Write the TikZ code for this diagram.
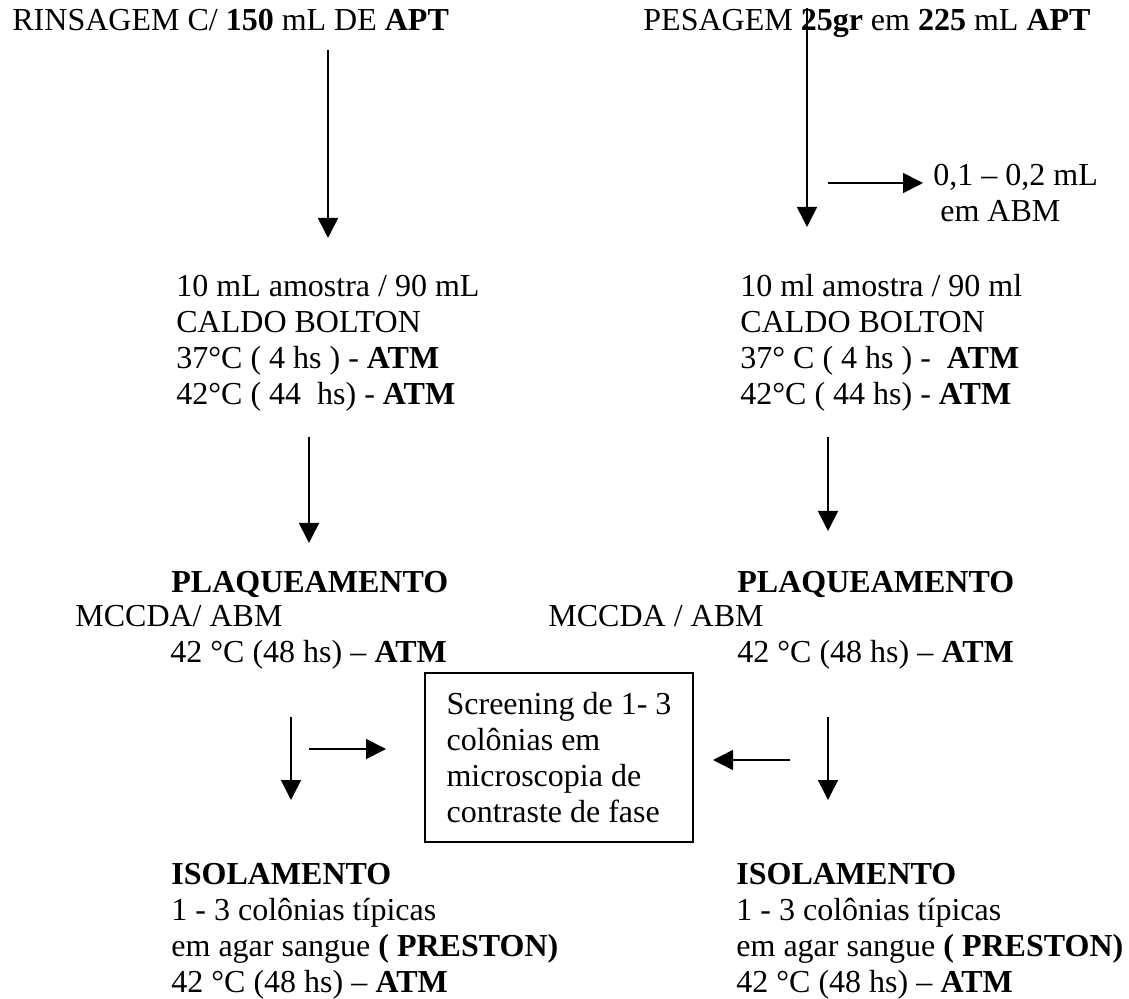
\documentclass[tikz,border=0pt]{standalone}
\usepackage{fontspec}
\setmainfont{Liberation Serif}
\usetikzlibrary{arrows.meta}

\begin{document}
\begin{tikzpicture}[x=0.5pt,y=-0.5pt]
\tikzstyle{every node}+=[inner sep=0pt, anchor=base west, align=left, font=\fontsize{16}{18}\selectfont]
\tikzstyle{seta}=[line width=0.8pt, -{Triangle[length=10pt,width=10pt]}]
\tikzstyle{caixa}=[draw, line width=0.8pt, anchor=center, minimum width=134pt, minimum height=84.5pt]
\useasboundingbox (0,0) rectangle (1129,999);
% amostras (multi-line nodes sit on their last baseline)
\node (rins) at (12,31) {RINSAGEM C/ \textbf{150} mL DE \textbf{APT}};
\node (pes) at (643,31) {PESAGEM \textbf{25gr} em \textbf{225} mL \textbf{APT}};
\node (abm) at (933,222) {0,1 -- 0,2 mL\\\hspace*{3.5pt}em ABM};
% caldo Bolton
\node (caldoL) at (176,405) {10 mL amostra / 90 mL\\CALDO BOLTON\\37°C ( 4 hs ) - \textbf{ATM}\\42°C ( 44\ \ hs) - \textbf{ATM}};
\node (caldoR) at (740,405) {10 ml amostra / 90 ml\\CALDO BOLTON\\37° C ( 4 hs ) -\ \ \textbf{ATM}\\42°C ( 44 hs) - \textbf{ATM}};
% plaqueamento
\node (plaqL) at (171,592) {\textbf{PLAQUEAMENTO}};
\node (mccL) at (75,626) {MCCDA/ ABM};
\node (tempL) at (170,662) {42 °C (48 hs) -- \textbf{ATM}};
\node (plaqR) at (737,592) {\textbf{PLAQUEAMENTO}};
\node (mccR) at (548,626) {MCCDA / ABM};
\node (tempR) at (737,662) {42 °C (48 hs) -- \textbf{ATM}};
\node[caixa] (scr) at (559,757.5) {Screening de 1- 3\\colônias em\\microscopia de\\contraste de fase};
% isolamento
\node (isoL) at (171,992) {\textbf{ISOLAMENTO}\\1 - 3 colônias típicas\\em agar sangue \textbf{( PRESTON)}\\42 °C (48 hs) -- \textbf{ATM}};
\node (isoR) at (736,992) {\textbf{ISOLAMENTO}\\1 - 3 colônias típicas\\em agar sangue \textbf{( PRESTON)}\\42 °C (48 hs) -- \textbf{ATM}};
% setas
\coordinate (a1) at (328,50);  \coordinate (a1t) at (328,238);
\coordinate (b1) at (807,8);   \coordinate (b1t) at (807,227);
\coordinate (c1) at (828,183); \coordinate (c1t) at (923,183);
\coordinate (a2) at (309,437); \coordinate (a2t) at (309,543);
\coordinate (b2) at (828,437); \coordinate (b2t) at (828,531);
\coordinate (a3) at (291,717); \coordinate (a3t) at (291,800);
\coordinate (d1) at (309,749); \coordinate (d1t) at (386,749);
\coordinate (b3) at (828,717); \coordinate (b3t) at (828,800);
\coordinate (e1) at (790,760); \coordinate (e1t) at (713,760);
\draw[seta] (a1) -- (a1t);
\draw[seta] (b1) -- (b1t);
\draw[seta] (c1) -- (c1t);
\draw[seta] (a2) -- (a2t);
\draw[seta] (b2) -- (b2t);
\draw[seta] (a3) -- (a3t);
\draw[seta] (d1) -- (d1t);
\draw[seta] (b3) -- (b3t);
\draw[seta] (e1) -- (e1t);
\end{tikzpicture}
\end{document}
